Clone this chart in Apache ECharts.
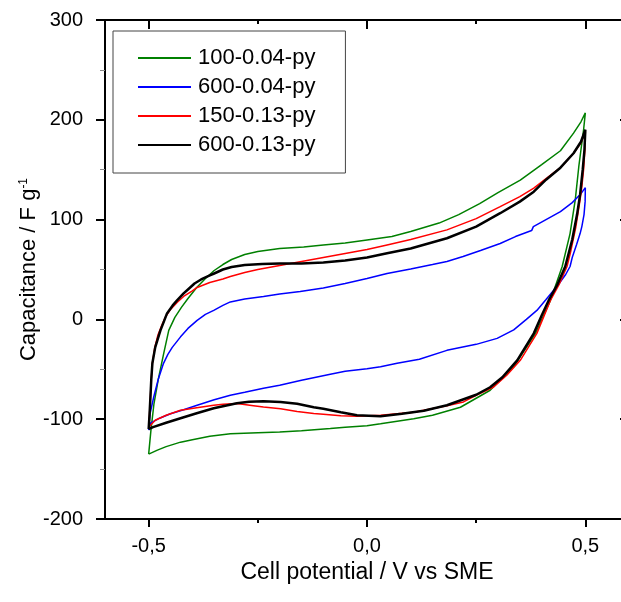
<!DOCTYPE html>
<html>
<head>
<meta charset="utf-8">
<script src="https://cdn.jsdelivr.net/npm/echarts@6/dist/echarts.min.js"></script>
<style>html,body{margin:0;padding:0;background:#fff;}#c{width:621px;height:602px;}</style>
</head>
<body>
<div id="c"></div>
<script>
// ---- data (potential V vs SME, capacitance F/g) ----
const seriesNames = ['100-0.04-py', '600-0.04-py', '150-0.13-py', '600-0.13-py'];
const seriesColors = ['#008000', '#0000ff', '#ff0000', '#000000'];

const green_fwd = [[-0.5,-135],[-0.495,-112],[-0.488,-85],[-0.478,-60],[-0.466,-35],[-0.454,-11],[-0.44,2],[-0.425,12],[-0.41,21],[-0.39,32],[-0.37,41],[-0.35,49],[-0.33,55],[-0.31,60],[-0.28,65],[-0.25,68],[-0.2,71],[-0.145,72.5],[-0.1,74.5],[-0.05,76.5],[0.0,79.5],[0.057,83],[0.1,88],[0.165,96.5],[0.21,105],[0.258,116],[0.3,127],[0.351,139.5],[0.4,155],[0.443,169],[0.473,186.7],[0.49,198],[0.5,207]];
const green_rev = [[0.5,207],[0.496,190],[0.49,170],[0.485,153],[0.477,120],[0.465,86],[0.447,53],[0.42,19],[0.386,-14],[0.336,-47.5],[0.282,-71],[0.214,-88],[0.15,-96],[0.107,-99.5],[0.031,-104.5],[0.0,-106.5],[-0.05,-108],[-0.084,-109.4],[-0.15,-111.5],[-0.2,-112.8],[-0.25,-113.5],[-0.313,-114.5],[-0.36,-117],[-0.4,-120.5],[-0.427,-123],[-0.46,-127.5],[-0.48,-131],[-0.5,-135]];

const blue_fwd = [[-0.5,-111],[-0.497,-95],[-0.4885,-78],[-0.478,-60],[-0.466,-44],[-0.456,-35],[-0.446,-28],[-0.427,-17.5],[-0.41,-9],[-0.389,-1],[-0.37,5],[-0.351,9],[-0.33,14],[-0.313,17.5],[-0.28,20.5],[-0.237,23],[-0.2,25.5],[-0.153,28],[-0.1,31.5],[-0.05,36],[0.0,41],[0.046,46],[0.1,50.5],[0.15,55],[0.183,58],[0.22,63],[0.26,69],[0.305,76],[0.34,83],[0.377,89],[0.381,93],[0.41,100],[0.443,108],[0.47,117],[0.49,126],[0.5,132]];
const blue_rev = [[0.5,132],[0.4995,118],[0.497,105],[0.492,93],[0.488,86],[0.48,75],[0.47,62],[0.465,53],[0.455,45],[0.44,36],[0.427,29],[0.41,20],[0.389,9],[0.365,0],[0.336,-10.5],[0.298,-19],[0.25,-25],[0.183,-31],[0.12,-40],[0.069,-44],[0.031,-47.5],[0.0,-49.5],[-0.05,-52],[-0.084,-55],[-0.15,-61],[-0.2,-66],[-0.237,-69],[-0.28,-73],[-0.313,-76],[-0.35,-80.5],[-0.389,-86],[-0.42,-90.5],[-0.45,-94.5],[-0.475,-99],[-0.496,-104],[-0.5,-111]];

const red_fwd = [[-0.5,-108],[-0.498,-95],[-0.496,-78],[-0.494,-60],[-0.4915,-44],[-0.486,-28],[-0.479,-16],[-0.47,-6],[-0.462,2],[-0.45,10],[-0.435,17],[-0.42,23],[-0.4,28.5],[-0.389,32],[-0.36,37],[-0.33,40.5],[-0.313,43],[-0.28,47],[-0.25,50],[-0.2,54],[-0.15,58],[-0.1,62],[-0.05,66],[0.0,70],[0.046,74.6],[0.1,80],[0.183,89.7],[0.25,101],[0.305,113],[0.35,123],[0.382,131.5],[0.41,141],[0.443,152],[0.473,166.5],[0.49,177],[0.5,188]];
const red_rev = [[0.5,188],[0.499,170],[0.496,150],[0.492,133],[0.488,120],[0.478,92],[0.466,67],[0.458,53],[0.44,35],[0.42,19],[0.405,3],[0.389,-14],[0.351,-41],[0.32,-56],[0.29,-67.7],[0.25,-76],[0.221,-82.7],[0.183,-86.5],[0.107,-93],[0.031,-96],[-0.023,-97],[-0.06,-96.5],[-0.1,-95],[-0.122,-94.4],[-0.16,-92.3],[-0.198,-89.6],[-0.237,-87.8],[-0.26,-86.5],[-0.298,-84.3],[-0.33,-85],[-0.351,-86],[-0.39,-88.5],[-0.427,-91],[-0.46,-96],[-0.485,-101],[-0.5,-108]];

const black_fwd = [[-0.5,-110],[-0.498,-95],[-0.496,-78],[-0.494,-60],[-0.4915,-44],[-0.485,-28],[-0.478,-18],[-0.473,-11],[-0.465,-2],[-0.458,6],[-0.445,14],[-0.435,19],[-0.42,26],[-0.41,30],[-0.395,36],[-0.38,40],[-0.36,44],[-0.35,46],[-0.33,50],[-0.31,52.5],[-0.28,54.5],[-0.24,55.5],[-0.2,56],[-0.15,56],[-0.1,57],[-0.05,59],[0.0,62],[0.046,66.3],[0.1,71],[0.183,81.3],[0.25,93],[0.305,106.4],[0.35,118],[0.382,128],[0.41,140],[0.443,152],[0.473,166.5],[0.49,178],[0.5,190]];
const black_rev = [[0.5,190],[0.498,170],[0.494,150],[0.488,125],[0.481,105],[0.47,80],[0.454,53],[0.435,34],[0.416,19],[0.4,4],[0.382,-14],[0.344,-41],[0.31,-58],[0.282,-68],[0.25,-75.5],[0.183,-86],[0.13,-91.5],[0.08,-94.5],[0.031,-97],[-0.023,-96],[-0.06,-93],[-0.1,-89.5],[-0.122,-88],[-0.16,-84.5],[-0.198,-82.7],[-0.237,-82],[-0.27,-82.5],[-0.298,-84],[-0.351,-89],[-0.39,-94],[-0.427,-99],[-0.46,-103.5],[-0.49,-108],[-0.5,-110]];

const xMajorTicks = [-0.5, 0, 0.5];
const xMinorTicks = [-0.25, 0.25];
const yTickLabels = ['-200', '-100', '0', '100', '200', '300'];

// ---- chart ----
const FONT = '"Liberation Sans", Arial, sans-serif';
const loops = [green_fwd.concat(green_rev), blue_fwd.concat(blue_rev), red_fwd.concat(red_rev), black_fwd.concat(black_rev)];
const widths = [1.5, 1.5, 1.5, 2.5];

const chart = echarts.init(document.getElementById('c'), null, { renderer: 'canvas' });
const xBase = { type: 'value', min: -0.6, max: 0.6, splitLine: { show: false } };
const yBase = { type: 'value', min: -200, max: 300, interval: 100, splitLine: { show: false } };
const axisColor = '#000';

chart.setOption({
  animation: false,
  backgroundColor: '#ffffff',
  grid: { left: 105, top: 20, width: 524, height: 499, outerBoundsMode: 'none', containLabel: false },
  legend: {
    orient: 'vertical', left: 113, top: 31,
    padding: [16, 30, 17, 24],
    itemWidth: 53, itemHeight: 14, itemGap: 7,
    itemStyle: { opacity: 0 },
    backgroundColor: '#ffffff', borderColor: '#444', borderWidth: 1,
    textStyle: { fontSize: 22, lineHeight: 22, color: '#000', fontFamily: FONT, padding: [0, 0, 0, 2] },
    data: seriesNames
  },
  xAxis: [
    Object.assign({}, xBase, {
      position: 'bottom',
      axisLine: { show: true, onZero: false, lineStyle: { color: axisColor, width: 2 } },
      axisTick: { show: true, customValues: xMajorTicks, length: 8, lineStyle: { color: axisColor, width: 2 } },
      axisLabel: { show: true, customValues: xMajorTicks, margin: 17, fontSize: 20, color: '#000', fontFamily: FONT,
        formatter: v => v.toFixed(1).replace('.', ',') },
      name: 'Cell potential / V vs SME', nameLocation: 'middle', nameGap: 42, nameMoveOverlap: false,
      nameTextStyle: { fontSize: 23, color: '#000', fontFamily: FONT }
    }),
    Object.assign({}, xBase, {
      position: 'bottom',
      axisLine: { show: false, onZero: false },
      axisTick: { show: true, customValues: xMinorTicks, length: 4, lineStyle: { color: axisColor, width: 2 } },
      axisLabel: { show: false, customValues: xMinorTicks }
    }),
    Object.assign({}, xBase, {
      position: 'top',
      axisLine: { show: true, onZero: false, lineStyle: { color: axisColor, width: 2 } },
      axisTick: { show: true, inside: true, customValues: xMajorTicks, length: 9, lineStyle: { color: axisColor, width: 2 } },
      axisLabel: { show: false, customValues: xMajorTicks }
    }),
    Object.assign({}, xBase, {
      position: 'top',
      axisLine: { show: false, onZero: false },
      axisTick: { show: true, inside: true, customValues: xMinorTicks, length: 4, lineStyle: { color: axisColor, width: 2 } },
      axisLabel: { show: false, customValues: xMinorTicks }
    })
  ],
  yAxis: [
    Object.assign({}, yBase, {
      position: 'left',
      axisLine: { show: true, onZero: false, lineStyle: { color: axisColor, width: 2 } },
      axisTick: { show: true, length: 9, lineStyle: { color: axisColor, width: 2 } },
      minorTick: { show: true, splitNumber: 2, length: 5, lineStyle: { color: '#888', width: 1 } },
      axisLabel: { show: true, margin: 22, fontSize: 20, color: '#000', fontFamily: FONT,
        formatter: v => yTickLabels[Math.round((v + 200) / 100)] },
      name: '{a|Capacitance / F g}{b|-1}', nameLocation: 'middle', nameGap: 65, nameRotate: 90, nameMoveOverlap: false,
      nameTextStyle: { rich: {
        a: { fontSize: 22, color: '#000', fontFamily: FONT },
        b: { fontSize: 12, color: '#000', fontFamily: FONT, verticalAlign: 'top' }
      } }
    }),
    Object.assign({}, yBase, {
      position: 'right',
      axisLine: { show: true, onZero: false, lineStyle: { color: axisColor, width: 2 } },
      axisTick: { show: true, inside: true, length: 9, lineStyle: { color: axisColor, width: 2 } },
      axisLabel: { show: false }
    })
  ],
  series: seriesNames.map((n, i) => ({
    name: n, type: 'line', xAxisIndex: 0, yAxisIndex: 0,
    data: loops[i], symbol: 'none', showSymbol: false, smooth: false,
    lineStyle: { color: seriesColors[i], width: widths[i] },
    itemStyle: { color: seriesColors[i] },
    emphasis: { disabled: true }
  }))
});
</script>
</body>
</html>
